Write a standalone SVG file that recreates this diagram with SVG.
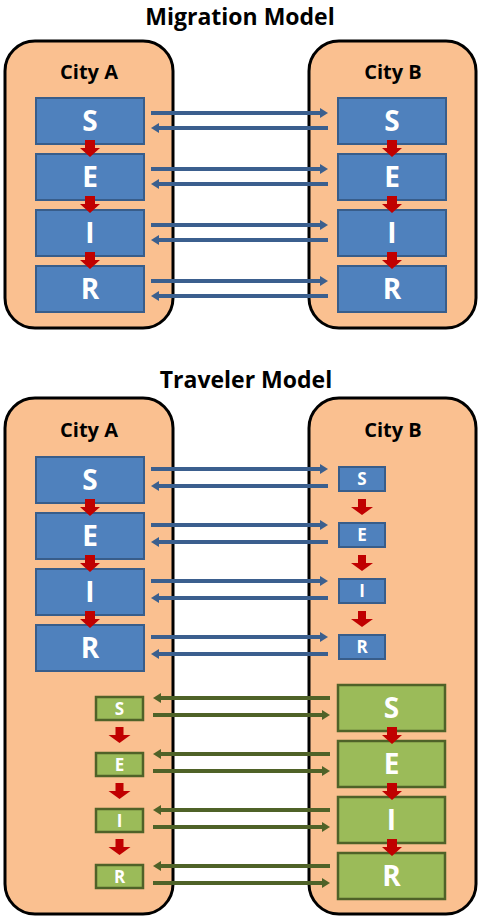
<svg xmlns="http://www.w3.org/2000/svg" xmlns:xlink="http://www.w3.org/1999/xlink" width="482" height="921" viewBox="0 0 482 921">
<style>
.title{font-family:"Open Sans","Liberation Sans",sans-serif;font-weight:bold;font-size:23px;fill:#000;text-anchor:middle}
.city{fill:#FAC090;stroke:#000;stroke-width:3}
.clbl{font-family:"Open Sans","Liberation Sans",sans-serif;font-weight:bold;font-size:20px;fill:#000;text-anchor:middle}
.bb{fill:#4F81BD;stroke:#385D8A;stroke-width:2}
.gb{fill:#9BBB59;stroke:#4F6228;stroke-width:2.5}
.big{font-family:"Open Sans","Liberation Sans",sans-serif;font-weight:bold;font-size:28px;fill:#fff;text-anchor:middle}
.sm{font-family:"Open Sans","Liberation Sans",sans-serif;font-weight:bold;font-size:17px;fill:#fff;text-anchor:middle}
.bl{stroke:#3B5F8E;stroke-width:4;fill:none;marker-end:url(#ab)}
.gl{stroke:#4F6228;stroke-width:4;fill:none;marker-end:url(#ag)}
.red{fill:#C00000}
</style>
<defs>
<marker id="ab" markerUnits="userSpaceOnUse" viewBox="0 0 8 10" markerWidth="8" markerHeight="10" refX="1" refY="5" orient="auto"><path d="M0,0 L8,5 L0,10 Z" fill="#3B5F8E"/></marker>
<marker id="ag" markerUnits="userSpaceOnUse" viewBox="0 0 8 10" markerWidth="8" markerHeight="10" refX="1" refY="5" orient="auto"><path d="M0,0 L8,5 L0,10 Z" fill="#4F6228"/></marker>
<path id="dn" class="red" d="M-5,0 H5 V8 H10 L0,17 L-10,8 H-5 Z"/>
<path id="dns" class="red" d="M-4,0 H4 V8 H11 L0,16 L-11,8 H-4 Z"/>
</defs>
<rect width="482" height="921" fill="#fff"/>

<text class="title" x="240" y="25">Migration Model</text>
<text class="title" x="246" y="388">Traveler Model</text>

<!-- Migration model -->
<g id="m-cityA"><rect class="city" x="5" y="41" width="168" height="287" rx="30"/><text class="clbl" x="89" y="79">City A</text></g>
<g id="m-cityB"><rect class="city" x="309" y="41" width="167" height="287" rx="30"/><text class="clbl" x="393" y="79">City B</text></g>

<g id="m-A-S"><rect class="bb" x="36" y="98" width="108" height="46"/><text class="big" x="90" y="131">S</text></g>
<g id="m-A-E"><rect class="bb" x="36" y="154" width="108" height="46"/><text class="big" x="90" y="187">E</text></g>
<g id="m-A-I"><rect class="bb" x="36" y="210" width="108" height="46"/><text class="big" x="90" y="243">I</text></g>
<g id="m-A-R"><rect class="bb" x="36" y="266" width="108" height="46"/><text class="big" x="90" y="299">R</text></g>
<g id="m-B-S"><rect class="bb" x="338" y="98" width="108" height="46"/><text class="big" x="392" y="131">S</text></g>
<g id="m-B-E"><rect class="bb" x="338" y="154" width="108" height="46"/><text class="big" x="392" y="187">E</text></g>
<g id="m-B-I"><rect class="bb" x="338" y="210" width="108" height="46"/><text class="big" x="392" y="243">I</text></g>
<g id="m-B-R"><rect class="bb" x="338" y="266" width="108" height="46"/><text class="big" x="392" y="299">R</text></g>

<!-- Traveler model -->
<g id="t-cityA"><rect class="city" x="5" y="398" width="168" height="516" rx="30"/><text class="clbl" x="89" y="437">City A</text></g>
<g id="t-cityB"><rect class="city" x="309" y="398" width="167" height="516" rx="30"/><text class="clbl" x="393" y="437">City B</text></g>

<g id="t-A-S"><rect class="bb" x="36" y="457" width="108" height="46"/><text class="big" x="90" y="490">S</text></g>
<g id="t-A-E"><rect class="bb" x="36" y="513" width="108" height="46"/><text class="big" x="90" y="546">E</text></g>
<g id="t-A-I"><rect class="bb" x="36" y="569" width="108" height="46"/><text class="big" x="90" y="602">I</text></g>
<g id="t-A-R"><rect class="bb" x="36" y="625" width="108" height="46"/><text class="big" x="90" y="658">R</text></g>

<g id="t-B-s"><rect class="bb" x="339" y="467" width="46" height="24"/><text class="sm" x="362" y="485">S</text></g>
<g id="t-B-e"><rect class="bb" x="339" y="523" width="46" height="24"/><text class="sm" x="362" y="541">E</text></g>
<g id="t-B-i"><rect class="bb" x="339" y="579" width="46" height="24"/><text class="sm" x="362" y="597">I</text></g>
<g id="t-B-r"><rect class="bb" x="339" y="635" width="46" height="24"/><text class="sm" x="362" y="653">R</text></g>

<g id="t-A-s"><rect class="gb" x="96" y="697" width="47" height="23"/><text class="sm" x="119.5" y="714.5">S</text></g>
<g id="t-A-e"><rect class="gb" x="96" y="753" width="47" height="23"/><text class="sm" x="119.5" y="770.5">E</text></g>
<g id="t-A-i"><rect class="gb" x="96" y="809" width="47" height="23"/><text class="sm" x="119.5" y="826.5">I</text></g>
<g id="t-A-r"><rect class="gb" x="96" y="865" width="47" height="23"/><text class="sm" x="119.5" y="882.5">R</text></g>

<g id="t-B-S"><rect class="gb" x="338" y="685" width="107" height="46"/><text class="big" x="391.5" y="718">S</text></g>
<g id="t-B-E"><rect class="gb" x="338" y="741" width="107" height="46"/><text class="big" x="391.5" y="774">E</text></g>
<g id="t-B-I"><rect class="gb" x="338" y="797" width="107" height="46"/><text class="big" x="391.5" y="830">I</text></g>
<g id="t-B-R"><rect class="gb" x="338" y="853" width="107" height="46"/><text class="big" x="391.5" y="886">R</text></g>

<g id="connectors">
<!-- migration horizontal -->
<line class="bl" x1="151" y1="113" x2="321" y2="113"/>
<line class="bl" x1="328" y1="128" x2="158" y2="128"/>
<line class="bl" x1="151" y1="169" x2="321" y2="169"/>
<line class="bl" x1="328" y1="184" x2="158" y2="184"/>
<line class="bl" x1="151" y1="225" x2="321" y2="225"/>
<line class="bl" x1="328" y1="240" x2="158" y2="240"/>
<line class="bl" x1="151" y1="281" x2="321" y2="281"/>
<line class="bl" x1="328" y1="296" x2="158" y2="296"/>
<!-- migration vertical -->
<use xlink:href="#dn" x="90" y="140"/>
<use xlink:href="#dn" x="90" y="196"/>
<use xlink:href="#dn" x="90" y="252"/>
<use xlink:href="#dn" x="392" y="140"/>
<use xlink:href="#dn" x="392" y="196"/>
<use xlink:href="#dn" x="392" y="252"/>
<!-- traveler blue horizontal -->
<line class="bl" x1="151" y1="469" x2="321" y2="469"/>
<line class="bl" x1="328" y1="486" x2="158" y2="486"/>
<line class="bl" x1="151" y1="525" x2="321" y2="525"/>
<line class="bl" x1="328" y1="542" x2="158" y2="542"/>
<line class="bl" x1="151" y1="581" x2="321" y2="581"/>
<line class="bl" x1="328" y1="598" x2="158" y2="598"/>
<line class="bl" x1="151" y1="637" x2="321" y2="637"/>
<line class="bl" x1="328" y1="654" x2="158" y2="654"/>
<!-- traveler green horizontal -->
<line class="gl" x1="330" y1="698" x2="160" y2="698"/>
<line class="gl" x1="153" y1="715" x2="323" y2="715"/>
<line class="gl" x1="330" y1="754" x2="160" y2="754"/>
<line class="gl" x1="153" y1="771" x2="323" y2="771"/>
<line class="gl" x1="330" y1="810" x2="160" y2="810"/>
<line class="gl" x1="153" y1="827" x2="323" y2="827"/>
<line class="gl" x1="330" y1="866" x2="160" y2="866"/>
<line class="gl" x1="153" y1="883" x2="323" y2="883"/>
<!-- traveler vertical -->
<use xlink:href="#dn" x="90" y="499"/>
<use xlink:href="#dn" x="90" y="555"/>
<use xlink:href="#dn" x="90" y="611"/>
<use xlink:href="#dns" x="362" y="499"/>
<use xlink:href="#dns" x="362" y="555"/>
<use xlink:href="#dns" x="362" y="611"/>
<use xlink:href="#dns" x="119.5" y="727"/>
<use xlink:href="#dns" x="119.5" y="783"/>
<use xlink:href="#dns" x="119.5" y="839"/>
<use xlink:href="#dn" x="392" y="727"/>
<use xlink:href="#dn" x="392" y="783"/>
<use xlink:href="#dn" x="392" y="839"/>
</g>
</svg>
